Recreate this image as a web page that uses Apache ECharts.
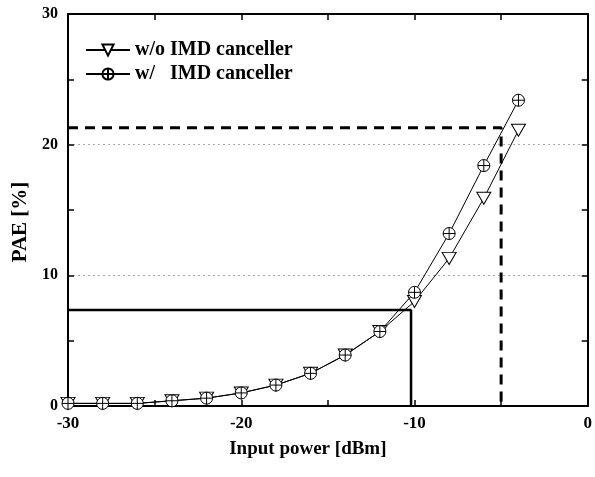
<!DOCTYPE html>
<html><head><meta charset="utf-8">
<script src="https://cdn.jsdelivr.net/npm/echarts@6/dist/echarts.min.js"></script>
<style>html,body{margin:0;padding:0;background:#fff}#c{width:595px;height:477px}</style>
</head><body><div id="c"></div>
<script>
var inputPower = [-30,-28,-26,-24,-22,-20,-18,-16,-14,-12,-10,-8,-6,-4];
var paeWithout = [0.2,0.2,0.2,0.4,0.6,1.0,1.6,2.5,3.9,5.7,8.0,11.3,15.9,21.1];
var paeWith    = [0.2,0.2,0.2,0.4,0.6,1.0,1.6,2.5,3.9,5.7,8.7,13.2,18.4,23.4];
var dashedRefX = [-30,-5,-5];
var dashedRefY = [21.3,21.3,0];
var solidRefX = [-30,-10.2,-10.2];
var solidRefY = [7.35,7.35,0];
var seriesNames = ['w/o IMD canceller','w/   IMD canceller'];

function pairs(xs, ys){ return xs.map(function(x,i){return [x, ys[i]];}); }
var font = '"Liberation Serif", "DejaVu Serif", serif';
var triPath = 'path://M0,0 L20,0 L10,18 Z';
var circPlus = 'path://M0,10 A10,10 0 1,1 20,10 A10,10 0 1,1 0,10 Z M10,0 L10,20 M0,10 L20,10';

var chart = echarts.init(document.getElementById('c'));
var axisLine = {show:true, onZero:false, lineStyle:{color:'#000', width:2}};
var tick = {inside:true, length:6, lineStyle:{color:'#000', width:1.5}};
var minor = {show:true, splitNumber:2, length:6, lineStyle:{color:'#000', width:1.5}};
chart.setOption({
  animation:false,
  backgroundColor:'#fff',
  grid:{left:68, right:2, top:14, bottom:71},
  legend:{
    left:80, top:35, orient:'vertical', itemGap:4, itemWidth:44, itemHeight:14,
    data:[{name:seriesNames[0]},{name:seriesNames[1]}],
    textStyle:{fontFamily:font, fontWeight:'bold', fontSize:20, color:'#000'}
  },
  xAxis:[{
    type:'value', min:-30, max:0, interval:10,
    axisLine:axisLine, axisTick:tick, minorTick:minor,
    splitLine:{show:false},
    axisLabel:{margin:9, fontFamily:font, fontWeight:'bold', fontSize:17, color:'#000'},
    name:'Input power [dBm]', nameLocation:'middle', nameGap:34,
    nameTextStyle:{fontFamily:font, fontWeight:'bold', fontSize:19, color:'#000', padding:[0,40,0,0]}
  },{
    type:'value', position:'top', min:-30, max:0, interval:10,
    axisLine:axisLine, axisTick:tick, minorTick:minor,
    axisLabel:{show:false}, splitLine:{show:false}
  }],
  yAxis:[{
    type:'value', min:0, max:30, interval:10,
    axisLine:axisLine, axisTick:tick, minorTick:minor,
    splitLine:{show:true, lineStyle:{color:'#aaa', type:[2,3], width:1}},
    axisLabel:{margin:10, fontFamily:font, fontWeight:'bold', fontSize:16, color:'#000'},
    name:'PAE [%]', nameLocation:'middle', nameGap:36,
    nameTextStyle:{fontFamily:font, fontWeight:'bold', fontSize:21, color:'#000', padding:[0,0,0,-24]}
  },{
    type:'value', position:'right', min:0, max:30, interval:10,
    axisLine:axisLine, axisTick:tick, minorTick:minor,
    axisLabel:{show:false}, splitLine:{show:false}
  }],
  series:[
    {name:'dashedRef', type:'line', data:pairs(dashedRefX, dashedRefY), symbol:'none',
     lineStyle:{color:'#000', width:3, type:[10,7]}, z:1},
    {name:'solidRef', type:'line', data:pairs(solidRefX, solidRefY), symbol:'none',
     lineStyle:{color:'#000', width:2.5}, z:1},
    {name:seriesNames[0], type:'line', data:pairs(inputPower, paeWithout),
     symbol:triPath, symbolSize:[14,12], color:'#000',
     itemStyle:{color:'#fff', borderColor:'#000', borderWidth:1},
     lineStyle:{color:'#000', width:1}, z:3},
    {name:seriesNames[1], type:'line', data:pairs(inputPower, paeWith),
     symbol:circPlus, symbolSize:12, color:'#000',
     itemStyle:{color:'#fff', borderColor:'#000', borderWidth:1},
     lineStyle:{color:'#000', width:1}, z:4}
  ]
});
</script></body></html>
